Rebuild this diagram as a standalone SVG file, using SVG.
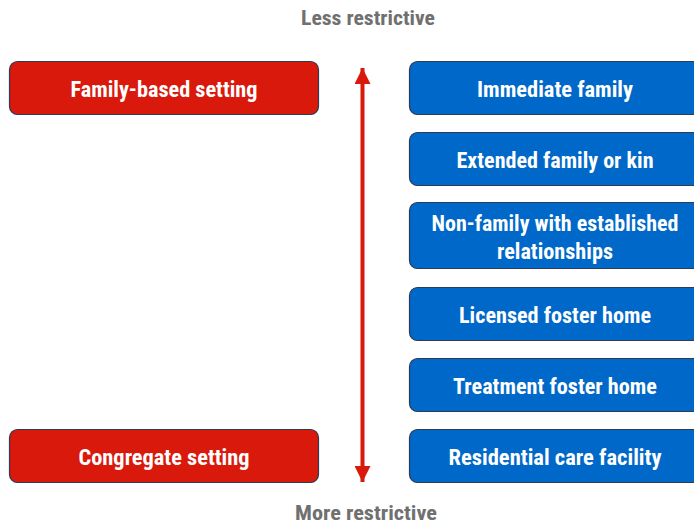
<svg xmlns="http://www.w3.org/2000/svg" width="694" height="527" viewBox="0 0 694 527">
<defs>
<style>
.red{fill:#D8190B;stroke:#2E3B55;stroke-width:1.2}
.blue{fill:#0068C8;stroke:#2E3B55;stroke-width:1.2}
.t{font-family:"Liberation Sans Narrow","Roboto Condensed","Liberation Sans",Arial,sans-serif;font-weight:bold;font-size:22px;fill:#fff;text-anchor:middle}
.g{font-family:"Liberation Sans Narrow","Roboto Condensed","Liberation Sans",Arial,sans-serif;font-weight:bold;font-size:21px;fill:#707070;text-anchor:middle}
</style>
<marker id="ah" viewBox="0 0 10 10" refX="10" refY="5" markerWidth="4" markerHeight="4" orient="auto-start-reverse" markerUnits="strokeWidth">
<path d="M0,0 L10,5 L0,10 z" fill="#D8190B"/>
</marker>
</defs>
<rect width="694" height="527" fill="#fff"/>
<text class="g" x="368" y="24.5" textLength="134" lengthAdjust="spacingAndGlyphs">Less restrictive</text>
<text class="g" x="366" y="519.5" textLength="142" lengthAdjust="spacingAndGlyphs">More restrictive</text>
<g id="connectors">
<line x1="362.5" y1="68" x2="362.5" y2="482" stroke="#D8190B" stroke-width="4" marker-start="url(#ah)" marker-end="url(#ah)"/>
</g>
<g id="family-based">
<rect class="red" x="9.5" y="61.5" width="309" height="53" rx="8"/>
<text class="t" x="164" y="97" textLength="187" lengthAdjust="spacingAndGlyphs">Family-based setting</text>
</g>
<g id="congregate">
<rect class="red" x="9.5" y="429.5" width="309" height="53" rx="8"/>
<text class="t" x="164" y="465" textLength="171" lengthAdjust="spacingAndGlyphs">Congregate setting</text>
</g>
<g id="immediate">
<rect class="blue" x="409.5" y="61.5" width="295" height="53" rx="8"/>
<text class="t" x="555" y="97" textLength="156" lengthAdjust="spacingAndGlyphs">Immediate family</text>
</g>
<g id="extended">
<rect class="blue" x="409.5" y="132.5" width="295" height="53" rx="8"/>
<text class="t" x="555" y="168" textLength="197" lengthAdjust="spacingAndGlyphs">Extended family or kin</text>
</g>
<g id="nonfamily">
<rect class="blue" x="409.5" y="202.5" width="295" height="66" rx="8"/>
<text class="t" x="555" y="231" textLength="247" lengthAdjust="spacingAndGlyphs">Non-family with established</text>
<text class="t" x="555" y="259" textLength="116" lengthAdjust="spacingAndGlyphs">relationships</text>
</g>
<g id="licensed">
<rect class="blue" x="409.5" y="287.5" width="295" height="53" rx="8"/>
<text class="t" x="555" y="323" textLength="192" lengthAdjust="spacingAndGlyphs">Licensed foster home</text>
</g>
<g id="treatment">
<rect class="blue" x="409.5" y="358.5" width="295" height="53" rx="8"/>
<text class="t" x="555" y="394" textLength="204" lengthAdjust="spacingAndGlyphs">Treatment foster home</text>
</g>
<g id="residential">
<rect class="blue" x="409.5" y="429.5" width="295" height="53" rx="8"/>
<text class="t" x="555" y="465" textLength="213" lengthAdjust="spacingAndGlyphs">Residential care facility</text>
</g>
</svg>
